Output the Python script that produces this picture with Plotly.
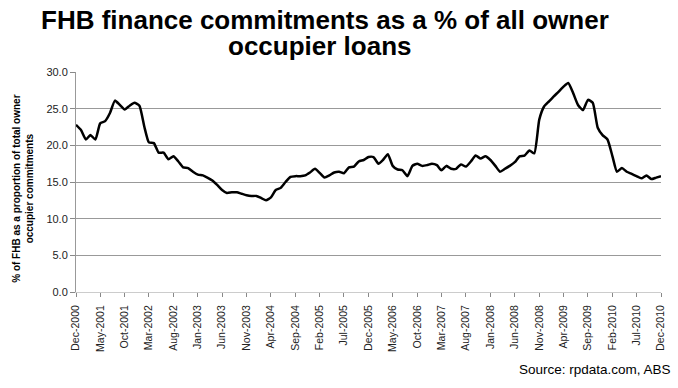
import plotly.graph_objects as go
import pandas as pd

start_month = "2000-12-01"
fhb_share = [
    22.8, 22.1, 20.8, 21.4, 20.8, 23.0, 23.3, 24.4, 26.1, 25.5,
    24.9, 25.4, 25.8, 25.4, 22.5, 20.4, 20.3, 19.0, 19.0, 18.1,
    18.5, 17.8, 17.0, 16.9, 16.4, 16.0, 15.9, 15.6, 15.2, 14.6,
    13.9, 13.5, 13.6, 13.6, 13.4, 13.2, 13.1, 13.1, 12.8, 12.5,
    12.9, 13.9, 14.2, 15.0, 15.7, 15.8, 15.8, 15.9, 16.3, 16.8,
    16.2, 15.6, 15.9, 16.3, 16.4, 16.2, 17.0, 17.1, 17.8, 18.0,
    18.4, 18.4, 17.5, 18.0, 18.8, 17.2, 16.7, 16.6, 15.8, 17.2,
    17.5, 17.2, 17.3, 17.5, 17.3, 16.6, 17.2, 16.8, 16.8, 17.4,
    17.1, 17.8, 18.6, 18.2, 18.5, 18.0, 17.2, 16.4, 16.8, 17.2,
    17.7, 18.5, 18.6, 19.3, 18.9, 23.5, 25.3, 26.0, 26.7, 27.3,
    28.0, 28.5, 27.1, 25.5, 24.8, 26.2, 25.8, 22.4, 21.4, 20.8,
    18.5, 16.4, 16.9, 16.4, 16.1, 15.8, 15.5, 15.9, 15.4, 15.6,
    15.8,
]
months = pd.date_range(start_month, periods=len(fhb_share), freq="MS")
tick_months = months[::5]
tick_labels = [d.strftime("%b-%Y") for d in tick_months]
y_ticks = [0, 5, 10, 15, 20, 25, 30]

title_line1 = "FHB finance commitments as a % of all owner"
title_line2 = "occupier loans"
y_title = "% of FHB as a proportion of total owner<br>occupier commitments"
source_text = "Source: rpdata.com, ABS"

fig = go.Figure()
fig.add_trace(go.Scatter(
    x=months, y=fhb_share, mode="lines",
    line=dict(color="black", width=2.5, shape="spline", smoothing=0.5),
    hoverinfo="skip",
))

FONT = "Liberation Sans, Arial, sans-serif"
fig.update_layout(
    width=678, height=388,
    margin=dict(l=76, r=17, t=72, b=96, autoexpand=False),
    paper_bgcolor="white", plot_bgcolor="white",
    showlegend=False,
    font=dict(family=FONT, color="#222"),
)

fig.update_xaxes(
    range=[months[0], months[-1]],
    tickvals=list(tick_months), ticktext=tick_labels,
    tickangle=-90, tickfont=dict(size=10.5, color="#222"),
    ticks="outside", ticklen=4, tickcolor="#888", ticklabelstandoff=4,
    showgrid=False, showline=True, linecolor="#ccc", linewidth=1,
    zeroline=False, automargin=False,
)
fig.update_yaxes(
    range=[0, 30], tickvals=y_ticks, tickformat=".1f",
    tickfont=dict(size=11, color="#222"),
    ticks="outside", ticklen=5, tickcolor="#888",
    showgrid=True, gridcolor="#999", gridwidth=1,
    showline=True, linecolor="#999", linewidth=1,
    zeroline=False, automargin=False,
)

fig.add_annotation(
    text="<b>" + title_line1 + "</b>", xref="paper", yref="paper",
    x=0.4256, y=1.236, xanchor="center", yanchor="middle", showarrow=False,
    font=dict(size=26, color="black", family=FONT),
)
fig.add_annotation(
    text="<b>" + title_line2 + "</b>", xref="paper", yref="paper",
    x=0.417, y=1.118, xanchor="center", yanchor="middle", showarrow=False,
    font=dict(size=26, color="black", family=FONT),
)
fig.add_annotation(
    text="<b>" + y_title + "</b>", textangle=-90,
    xref="paper", yref="paper", x=-0.092, y=0.47,
    xanchor="center", yanchor="middle", showarrow=False,
    font=dict(size=10, color="black", family="Liberation Sans Narrow, Liberation Sans, Arial, sans-serif"),
)
fig.add_annotation(
    text=source_text, xref="paper", yref="paper",
    x=1.0205, y=-0.35, xanchor="right", yanchor="middle",
    showarrow=False, font=dict(size=13.5, color="black"),
)

fig.write_html("out.html", config={"displayModeBar": False},
               post_script="document.body.style.margin='0';")
